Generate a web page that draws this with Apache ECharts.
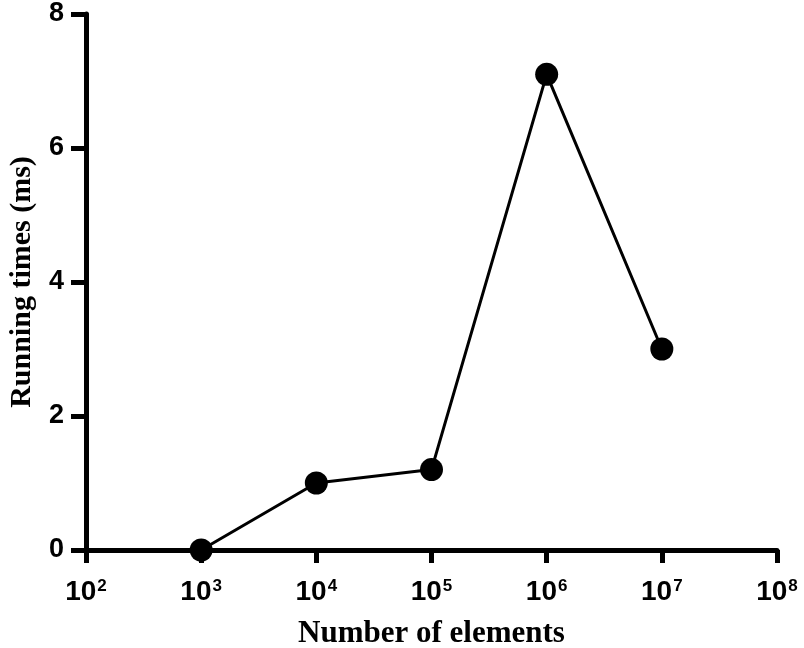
<!DOCTYPE html>
<html>
<head>
<meta charset="utf-8">
<script src="https://cdn.jsdelivr.net/npm/echarts@6/dist/echarts.min.js"></script>
<style>html,body{margin:0;padding:0;background:#fff}#c{width:804px;height:648px}</style>
</head>
<body>
<div id="c"></div>
<script>
const elements = [1e3, 1e4, 1e5, 1e6, 1e7];
const runningTimes = [0, 1.0, 1.2, 7.1, 3.0];
const xTitle = 'Number of elements';
const yTitle = 'Running times (ms)';

const chart = echarts.init(document.getElementById('c'), null, {renderer: 'canvas'});
const sans = '"Liberation Sans", Arial, sans-serif';
const serif = '"Liberation Serif", "Times New Roman", serif';
chart.setOption({
  animation: false,
  backgroundColor: '#fff',
  grid: {left: 86, right: 27, top: 14, bottom: 98, containLabel: false, outerBoundsMode: 'none'},
  xAxis: {
    type: 'log', logBase: 10, min: 100, max: 1e8,
    name: xTitle, nameLocation: 'middle', nameGap: 68,
    nameTextStyle: {fontFamily: serif, fontWeight: 'bold', fontSize: 31, color: '#000'},
    axisLine: {lineStyle: {color: '#000', width: 5}},
    axisTick: {show: true, length: 13, lineStyle: {color: '#000', width: 5}},
    minorTick: {show: false},
    splitLine: {show: false},
    axisLabel: {
      margin: 28, color: '#000',
      formatter: function (v) { return '{b|10}{s|' + Math.round(Math.log10(v)) + '}'; },
      rich: {
        b: {fontFamily: sans, fontWeight: 'bold', fontSize: 28, color: '#000'},
        s: {fontFamily: sans, fontWeight: 'bold', fontSize: 17, color: '#000', verticalAlign: 'top', padding: [0, 0, 12, 1]}
      }
    }
  },
  yAxis: {
    type: 'value', min: 0, max: 8, interval: 2,
    name: yTitle, nameLocation: 'middle', nameGap: 49,
    nameTextStyle: {fontFamily: serif, fontWeight: 'bold', fontSize: 30, color: '#000'},
    axisLine: {show: true, lineStyle: {color: '#000', width: 5}},
    axisTick: {show: true, length: 15, lineStyle: {color: '#000', width: 5}},
    splitLine: {show: false},
    axisLabel: {margin: 22, color: '#000', fontFamily: sans, fontWeight: 'bold', fontSize: 27}
  },
  series: [{
    type: 'line',
    data: elements.map((x, i) => [x, runningTimes[i]]),
    symbol: 'circle', symbolSize: 23,
    clip: false, z: 10,
    lineStyle: {color: '#000', width: 3},
    itemStyle: {color: '#000'}
  }]
});
</script>
</body>
</html>
